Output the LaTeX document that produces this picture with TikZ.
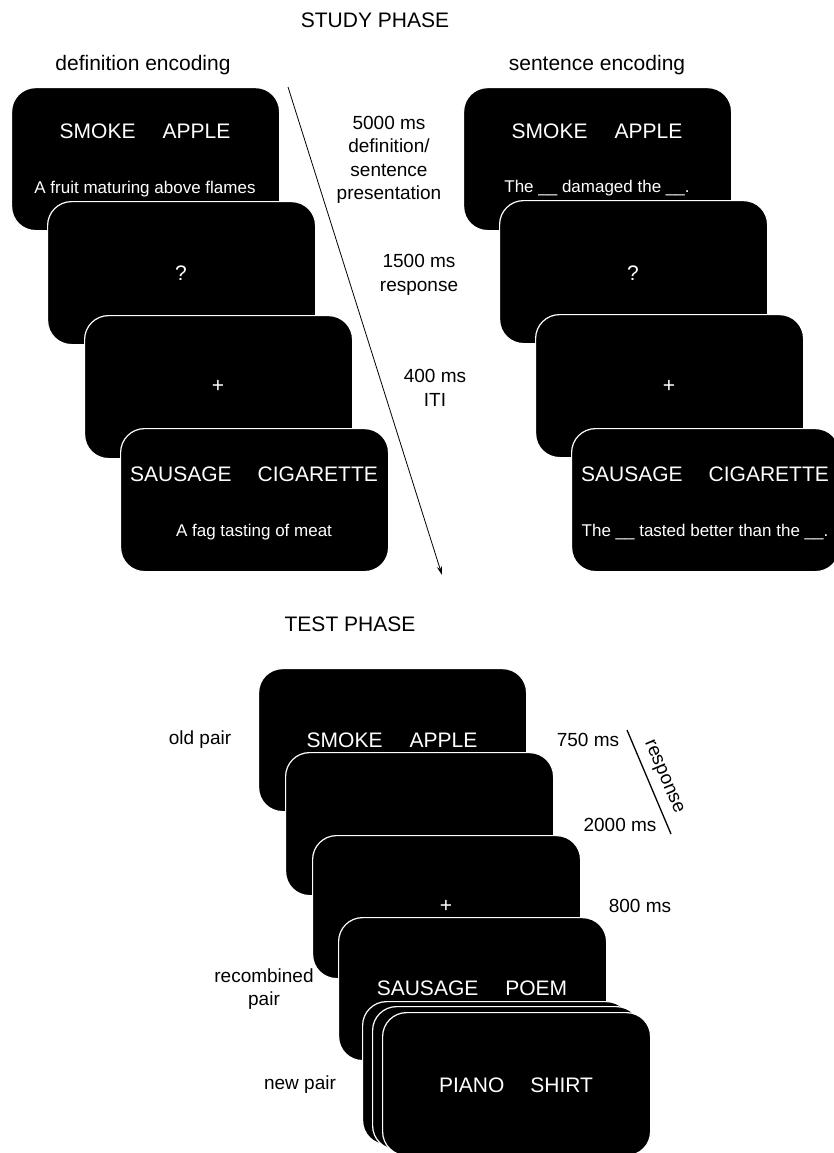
\documentclass[tikz,border=0pt]{standalone}
\usepackage{fontspec}
\setmainfont{Liberation Sans}
\usetikzlibrary{arrows.meta}
\begin{document}
\begin{tikzpicture}[x=1pt,y=-1pt,
  card/.style={draw=white, line width=1.2pt, fill=black, rounded corners=24pt,
    minimum width=268pt, minimum height=143pt, inner sep=0pt, anchor=north west},
  big/.style={text=white, font=\fontsize{21}{25}\selectfont, inner sep=0pt},
  sub/.style={text=white, font=\fontsize{17}{20}\selectfont, inner sep=0pt},
  lab/.style={font=\fontsize{19}{23.5}\selectfont, align=center, inner sep=0pt},
  head/.style={font=\fontsize{21}{25}\selectfont, inner sep=0pt}]
\clip (0,0) rectangle (834,1153);
\fill[white] (0,0) rectangle (834,1153);

% headings
\node[head] (study) at (375,20) {STUDY PHASE};
\node[head] (defenc) at (143,65) {definition encoding};
\node[head] (senenc) at (597,65) {sentence encoding};

% left stack
\node[card] (L1) at (11,87) {};
\node[big] (L1a) at (145,131) {SMOKE\hspace{27pt}APPLE};
\node[sub] (L1b) at (145,189) {A fruit maturing above flames};
\node[card] (L2) at (47,201) {};
\node[big] (L2a) at (181,273) {?};
\node[card] (L3) at (84,315) {};
\node[big] (L3a) at (218,386) {+};
\node[card] (L4) at (120,428) {};
\node[big] (L4a) at (254,474) {SAUSAGE\hspace{26pt}CIGARETTE};
\node[sub] (L4b) at (254,532) {A fag tasting of meat};

% right stack
\node[card] (R1) at (463,87) {};
\node[big] (R1a) at (597,131) {SMOKE\hspace{27pt}APPLE};
\node[sub] (R1b) at (597,188) {The \_\_ damaged the \_\_.};
\node[card] (R2) at (499,200) {};
\node[big] (R2a) at (633,273) {?};
\node[card] (R3) at (535,314) {};
\node[big] (R3a) at (669,386) {+};
\node[card] (R4) at (571,428) {};
\node[big] (R4a) at (705,474) {SAUSAGE\hspace{26pt}CIGARETTE};
\node[sub] (R4b) at (705,532) {The \_\_ tasted better than the \_\_.};

% time arrow
\coordinate (as) at (288,87);
\coordinate (ae) at (442,575);
\draw[line width=0.8pt,-{Stealth[length=9pt,width=5pt]}] (as) -- (ae);
\node[lab] (t1) at (389,160) {5000 ms\\definition/\\sentence\\presentation};
\node[lab] (t2) at (419,275) {1500 ms\\response};
\node[lab] (t3) at (435,388) {400 ms\\ITI};

% test phase
\node[head] (test) at (350,624) {TEST PHASE};
\node[card] (T1) at (258,668) {};
\node[big] (T1a) at (392,740) {SMOKE\hspace{27pt}APPLE};
\node[card] (T2) at (285,752) {};
\node[card] (T3) at (312,835) {};
\node[big] (T3a) at (446,906) {+};
\node[card] (T4) at (338,917) {};
\node[big] (T4a) at (472,988) {SAUSAGE\hspace{27pt}POEM};
\node[card] (N1) at (362,1001) {};
\node[card] (N2) at (372,1006) {};
\node[card] (N3) at (382,1012) {};
\node[big] (N3a) at (516,1085) {PIANO\hspace{26pt}SHIRT};

\node[lab] (old) at (200,740) {old pair};
\node[lab] (rec) at (264,989) {recombined\\pair};
\node[lab] (new) at (300,1085) {new pair};
\node[lab] (m750) at (588,740) {750 ms};
\node[lab] (m2000) at (620,825) {2000 ms};
\node[lab] (m800) at (640,906) {800 ms};
\coordinate (rs) at (627,730);
\coordinate (re) at (671,834);
\draw[line width=1.3pt] (rs) -- (re);
\node[lab, rotate=-67] (resp) at (663,777) {response};
\end{tikzpicture}
\end{document}
